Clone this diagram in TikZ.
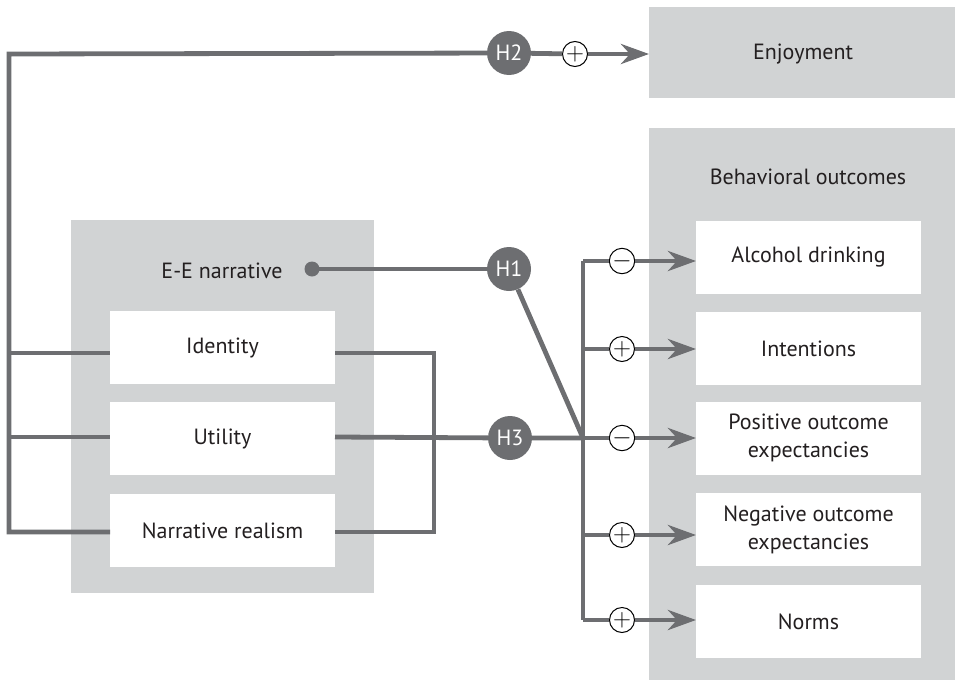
\documentclass[tikz,border=0pt]{standalone}
\usepackage{fontspec}
\setmainfont{PT Sans}
\usetikzlibrary{arrows.meta}
\definecolor{linegray}{HTML}{6D6E71}
\definecolor{boxgray}{HTML}{D1D3D4}
\definecolor{inkdark}{HTML}{231F20}
\tikzset{
  panel/.style={fill=boxgray, draw=none, inner sep=0pt, outer sep=0pt},
  itembox/.style={fill=white, draw=none, inner sep=0pt, outer sep=0pt,
    minimum width=225pt, minimum height=73pt, align=center,
    text=inkdark, font=\fontsize{22}{28}\selectfont},
  label/.style={text=inkdark, font=\fontsize{22}{28}\selectfont, inner sep=0pt},
  hyp/.style={circle, fill=linegray, draw=none, minimum size=44pt, inner sep=0pt,
    text=white, font=\fontsize{22}{22}\selectfont},
  sign/.style={circle, fill=white, draw=black, line width=1pt,
    minimum size=25pt, inner sep=0pt, font=\fontsize{25}{25}\selectfont},
  conn/.style={draw=linegray, line width=4.8pt, line join=miter},
  arr/.style={conn, -{Stealth[length=28pt, width=20pt, inset=9pt]}},
}
\begin{document}
\begin{tikzpicture}[x=1pt, y=-1pt]
\useasboundingbox (0,0) rectangle (955,680);

% grey panels
\node[panel, minimum width=306pt, minimum height=91pt] (enjoy) at (802,52.5) {};
\node[label] at (803,54) {Enjoyment};
\node[panel, minimum width=306pt, minimum height=552pt] (outcomes) at (802,404) {};
\node[label] at (808,177) {Behavioral outcomes};
\node[panel, minimum width=303pt, minimum height=373pt] (narr) at (222.5,406.5) {};
\node[label] (eelabel) at (222,271) {E-E narrative};

% narrative dimensions
\node[itembox] (identity) at (222.5,347.5) {Identity};
\node[itembox] (utility)  at (222.5,438.5) {Utility};
\node[itembox] (realism)  at (222.5,530.5) {Narrative realism};

% outcome boxes
\node[itembox] (alcohol)  at (808.5,257)   {Alcohol drinking};
\node[itembox] (intent)   at (808.5,348.5) {Intentions};
\node[itembox] (posexp)   at (808.5,438)   {Positive outcome\\expectancies};
\node[itembox] (negexp)   at (808.5,529.5) {Negative outcome\\expectancies};
\node[itembox] (norms)    at (808.5,621.5) {Norms};

% hypothesis markers
\node[hyp] (h1) at (509,269) {H1};
\node[hyp] (h2) at (509,53)  {H2};
\node[hyp] (h3) at (510,438) {H3};

% connection points
\coordinate (corner) at (9,54);
\coordinate (idL) at (110,353);
\coordinate (utL) at (110,437);
\coordinate (reL) at (110,532);
\coordinate (idR) at (335,353);
\coordinate (utR) at (335,437);
\coordinate (reR) at (335,532);
\coordinate (loopX) at (434,353);
\coordinate (jn) at (583,438);
\coordinate (jtop) at (583,261);
\coordinate (jbot) at (583,620);
\coordinate (j2) at (583,349);
\coordinate (j4) at (583,535);
\coordinate (dot) at (312,269);

% left bracket feeding H2
\draw[conn] (h2) -- (corner) |- (reL);
\draw[conn] (corner |- idL) -- (idL);
\draw[conn] (corner |- utL) -- (utL);

% right loop joining identity and realism
\draw[conn] (idR) -- (loopX) |- (reR);

% utility through H3 to junction
\draw[conn] (utR) -- (h3) -- (jn);

% E-E narrative through H1
\draw[conn] (dot) -- (h1);
\fill[linegray] (dot) circle (7.5pt);
\draw[conn] (h1) -- (jn);

% junction trunk
\draw[conn, line cap=butt] (jtop) -- (jbot);

% sign markers
\node[sign] (s0) at (575,54)  {$+$};
\node[sign] (s1) at (622,261) {$-$};
\node[sign] (s2) at (622,349) {$+$};
\node[sign] (s3) at (622,438) {$-$};
\node[sign] (s4) at (622,535) {$+$};
\node[sign] (s5) at (622,620) {$+$};

% H2 to enjoyment
\draw[conn] (h2) -- (s0);
\draw[arr] (s0) -- (enjoy.west |- s0);

% branches to outcomes
\draw[conn] (jtop) -- (s1);
\draw[conn] (j2) -- (s2);
\draw[conn] (jn) -- (s3);
\draw[conn] (j4) -- (s4);
\draw[conn] (jbot) -- (s5);
\draw[arr] (s1) -- (alcohol.west |- s1);
\draw[arr] (s2) -- (intent.west |- s2);
\draw[arr] (s3) -- (posexp.west |- s3);
\draw[arr] (s4) -- (negexp.west |- s4);
\draw[arr] (s5) -- (norms.west |- s5);
\end{tikzpicture}
\end{document}
